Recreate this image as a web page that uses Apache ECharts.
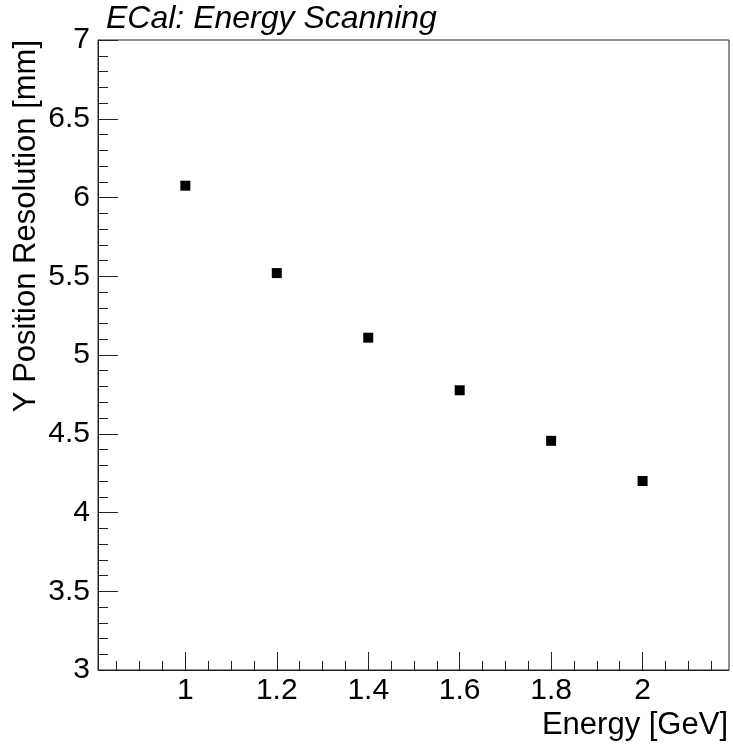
<!DOCTYPE html>
<html>
<head>
<meta charset="utf-8">
<title>ECal: Energy Scanning</title>
<script src="https://cdn.jsdelivr.net/npm/echarts@6/dist/echarts.min.js"></script>
<style>
  html, body { margin: 0; padding: 0; background: #fff; }
  #chart { width: 733px; height: 744px; }
</style>
</head>
<body>
<div id="chart"></div>
<script>
// Beam energies [GeV] and measured Y position resolution [mm]
const energies = [1.0, 1.2, 1.4, 1.6, 1.8, 2.0];
const resolution = [6.075, 5.52, 5.11, 4.776, 4.455, 4.2];

// Axis ranges and tick positions
const xRange = [0.809, 2.189];
const xMajorTicks = [1.0, 1.2, 1.4, 1.6, 1.8, 2.0];
const xMinorTicks = [0.85, 0.9, 0.95, 1.05, 1.1, 1.15, 1.25, 1.3, 1.35, 1.45, 1.5, 1.55,
                     1.65, 1.7, 1.75, 1.85, 1.9, 1.95, 2.05, 2.1, 2.15];
const yRange = [3, 7];
const yStep = 0.5;

const FONT = '"Liberation Sans", Arial, Helvetica, sans-serif';
const AXIS_COLOR = '#222';

const chart = echarts.init(document.getElementById('chart'), null, { renderer: 'canvas' });

const points = energies.map((e, i) => [e, resolution[i]]);

chart.setOption({
  animation: false,
  backgroundColor: '#fff',
  grid: {
    left: 98, top: 40, width: 631, height: 630,
    show: true, borderColor: AXIS_COLOR, borderWidth: 1, backgroundColor: 'transparent'
  },
  xAxis: [
    {
      type: 'value', min: xRange[0], max: xRange[1], position: 'bottom',
      axisLine: { show: true, lineStyle: { color: AXIS_COLOR, width: 1 } },
      axisTick: { show: true, inside: true, length: 18, customValues: xMajorTicks,
                  lineStyle: { color: AXIS_COLOR, width: 1 } },
      axisLabel: { show: true, customValues: xMajorTicks, margin: 6,
                   fontFamily: FONT, fontSize: 30, color: '#000',
                   formatter: v => String(Math.round(v * 10) / 10) },
      splitLine: { show: false }
    },
    {
      type: 'value', min: xRange[0], max: xRange[1], position: 'bottom',
      axisLine: { show: false },
      axisTick: { show: true, inside: true, length: 9, customValues: xMinorTicks,
                  lineStyle: { color: AXIS_COLOR, width: 1 } },
      axisLabel: { show: false },
      splitLine: { show: false }
    }
  ],
  yAxis: {
    type: 'value', min: yRange[0], max: yRange[1], interval: yStep,
    axisLine: { show: true, lineStyle: { color: AXIS_COLOR, width: 1 } },
    axisTick: { show: true, inside: true, length: 20, lineStyle: { color: AXIS_COLOR, width: 1 } },
    minorTick: { show: true, splitNumber: 5, length: 10, lineStyle: { color: AXIS_COLOR, width: 1 } },
    axisLabel: { margin: 8, fontFamily: FONT, fontSize: 30, color: '#000',
                 formatter: v => String(Math.round(v * 10) / 10) },
    splitLine: { show: false }
  },
  series: [{
    type: 'scatter',
    xAxisIndex: 0,
    data: points,
    symbol: 'rect',
    symbolSize: 10,
    itemStyle: { color: '#000', opacity: 1 }
  }],
  graphic: [
    {
      type: 'text', x: 106, y: 19, z: 10,
      style: { text: 'ECal: Energy Scanning', fontFamily: FONT, fontSize: 32,
               fontStyle: 'italic', fill: '#000', align: 'left', verticalAlign: 'middle' }
    },
    {
      type: 'text', x: 728, y: 725, z: 10,
      style: { text: 'Energy [GeV]', fontFamily: FONT, fontSize: 31, fill: '#000',
               align: 'right', verticalAlign: 'middle' }
    },
    {
      type: 'text', x: 26, y: 40, rotation: Math.PI / 2, z: 10,
      style: { text: 'Y Position Resolution [mm]', fontFamily: FONT, fontSize: 31, fill: '#000',
               align: 'right', verticalAlign: 'middle' }
    }
  ]
});
</script>
</body>
</html>
